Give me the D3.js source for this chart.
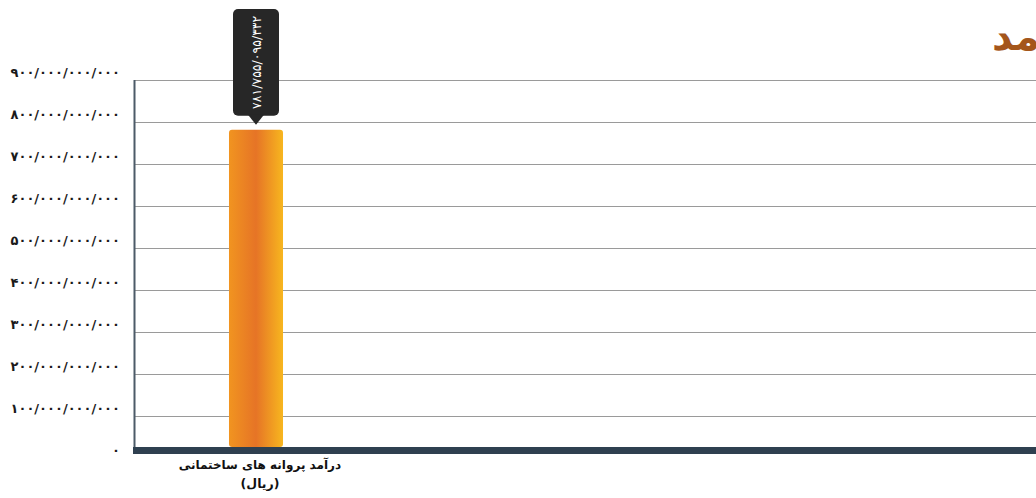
<!DOCTYPE html>
<html><head><meta charset="utf-8">
<script src="https://cdn.jsdelivr.net/npm/d3@7"></script>
<style>html,body{margin:0;padding:0;background:#fff;overflow:hidden}svg{display:block}</style>
</head><body>
<svg id="c" width="1036" height="498"></svg>
<script>
const categories = ["درآمد پروانه های ساختمانی"];
const categoryUnits = ["(ریال)"];
const values = [781755095332];
const yTicks = [0,100e9,200e9,300e9,400e9,500e9,600e9,700e9,800e9,900e9];
const titleText = "درآمد";

const fa = "۰۱۲۳۴۵۶۷۸۹";
function faNum(v){
  const s = d3.format(",")(v).replace(/,/g,"/");
  return s.replace(/[0-9]/g, d => fa[+d]);
}

const svg = d3.select("#c");
const W = 1036;
const y = d3.scaleLinear().domain([0, 900e9]).range([458, 80]);
const x = d3.scaleBand().domain(categories).range([135, 377]).paddingInner(0.7).paddingOuter(0.522);
const baseTop = 447;
const font = "'DejaVu Sans', sans-serif";

const defs = svg.append("defs");
const g = defs.append("linearGradient").attr("id","barg").attr("x1","0").attr("x2","1").attr("y1","0").attr("y2","0");
g.append("stop").attr("offset","0%").attr("stop-color","#f19420");
g.append("stop").attr("offset","50%").attr("stop-color","#e67426");
g.append("stop").attr("offset","100%").attr("stop-color","#f7b61f");

// title (clipped by window, as in the reference)
svg.append("text").attr("x", 992).attr("y", 50)
  .attr("font-family", font).attr("font-weight","bold").attr("font-size", 40)
  .attr("fill", "#a4561b").attr("text-anchor","start").text(titleText);

// gridlines
const axis = d3.axisLeft(y).tickValues(yTicks).tickSize(-(W - 135)).tickFormat(faNum);
const ag = svg.append("g").attr("transform","translate(135,0)").call(axis);
ag.select(".domain").remove();
ag.selectAll(".tick line").attr("stroke","#9a9a9a").attr("stroke-width",1)
  .filter(d => d === 0).remove();
ag.selectAll(".tick text").attr("x",-15).attr("dy","-0.25em")
  .attr("font-family", font).attr("font-weight","bold").attr("font-size", 13)
  .attr("fill","#1a1a1a").attr("direction","ltr");

// left axis line
svg.append("line").attr("x1",134.5).attr("x2",134.5).attr("y1",y(900e9)).attr("y2",baseTop)
  .attr("stroke","#4c5b68").attr("stroke-width",2);

// bars
svg.selectAll("rect.bar").data(values).join("rect").attr("class","bar")
  .attr("x",(d,i)=>x(categories[i])).attr("width",x.bandwidth())
  .attr("y",d=>y(d)).attr("height",d=>baseTop - y(d))
  .attr("rx",3).attr("fill","url(#barg)");

// baseline floor
svg.append("rect").attr("x",133).attr("y",baseTop).attr("width",W-133).attr("height",7).attr("fill","#2f4050");

// category labels
categories.forEach((c,i) => {
  const cx = x(c) + x.bandwidth()/2 + 4;
  svg.append("text").attr("x",cx).attr("y",469).attr("text-anchor","middle")
    .attr("font-family",font).attr("font-weight","bold").attr("font-size",12).attr("fill","#111").text(c);
  svg.append("text").attr("x",cx).attr("y",488).attr("text-anchor","middle")
    .attr("font-family",font).attr("font-weight","bold").attr("font-size",12.5).attr("fill","#111").text(categoryUnits[i]);
});

// tooltip callouts
values.forEach((v,i) => {
  const cx = x(categories[i]) + x.bandwidth()/2;
  const top = 9, bot = y(v) - 14;
  const tg = svg.append("g");
  tg.append("rect").attr("x",cx-23).attr("y",top).attr("width",46).attr("height",bot-top)
    .attr("rx",5).attr("fill","#272727");
  tg.append("path").attr("d",`M${cx-8},${bot-1} L${cx+8},${bot-1} L${cx},${bot+9} Z`).attr("fill","#272727");
  tg.append("text").attr("transform",`translate(${cx+5},${(top+bot)/2}) rotate(-90)`)
    .attr("text-anchor","middle").attr("font-family",font)
    .attr("font-size",12.5).attr("fill","#fff").attr("direction","ltr").text(faNum(v));
});
</script>
</body></html>
